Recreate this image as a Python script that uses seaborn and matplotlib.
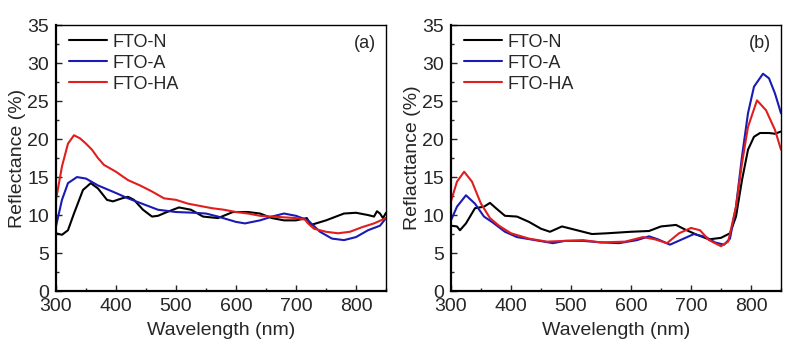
import numpy as np
import pandas as pd
import seaborn as sns
import matplotlib.pyplot as plt
from matplotlib.ticker import MultipleLocator

# ---- panel (a) ----
a_n_wl = [300, 310, 320, 330, 345, 358, 370, 385, 395, 410, 420, 430, 445, 460, 470, 485, 505, 525, 545,
          570, 595, 620, 640, 660, 680, 700, 718, 725, 750, 780, 800, 820, 830, 835, 840, 845, 850]
a_n_r = [7.6, 7.4, 8.0, 10.2, 13.3, 14.2, 13.5, 12.0, 11.8, 12.2, 12.4, 12.0, 10.7, 9.8, 9.9, 10.4, 11.0, 10.7, 9.8,
         9.6, 10.4, 10.4, 10.2, 9.6, 9.3, 9.3, 9.6, 8.7, 9.3, 10.2, 10.3, 10.0, 9.8, 10.5, 10.2, 9.6, 10.3]

a_a_wl = [300, 310, 320, 335, 350, 370, 400, 420, 450, 470, 500, 530, 550, 570, 600, 615, 640, 660, 680,
          700, 720, 740, 760, 780, 800, 820, 840, 850]
a_a_r = [8.5, 12.0, 14.2, 15.0, 14.8, 13.9, 12.9, 12.2, 11.3, 10.7, 10.4, 10.3, 10.2, 9.8, 9.1, 8.9, 9.3, 9.8, 10.2,
         9.9, 9.3, 7.8, 6.9, 6.7, 7.1, 8.0, 8.6, 9.6]

a_ha_wl = [300, 310, 320, 330, 340, 350, 360, 370, 380, 400, 420, 440, 460, 480, 500, 520, 540, 560, 580,
           600, 620, 640, 660, 680, 700, 715, 720, 730, 750, 770, 790, 810, 830, 850]
a_ha_r = [12.0, 16.4, 19.4, 20.5, 20.1, 19.4, 18.6, 17.5, 16.6, 15.7, 14.6, 13.9, 13.1, 12.2, 12.0, 11.5, 11.2, 10.9, 10.7,
          10.4, 10.2, 9.9, 9.8, 9.7, 9.6, 9.4, 8.9, 8.2, 7.8, 7.6, 7.8, 8.4, 8.9, 9.6]

# ---- panel (b) ----
b_n_wl = [300, 310, 315, 325, 340, 355, 365, 375, 390, 410, 430, 450, 465, 485, 500, 520, 535, 560, 600,
          630, 650, 675, 690, 710, 730, 750, 765, 775, 785, 795, 805, 815, 830, 840, 850]
b_n_r = [8.6, 8.5, 8.0, 8.9, 10.9, 11.1, 11.6, 10.9, 9.9, 9.8, 9.1, 8.2, 7.8, 8.5, 8.2, 7.8, 7.5, 7.6, 7.8,
         7.9, 8.5, 8.7, 8.1, 7.4, 6.8, 7.0, 7.6, 9.8, 14.6, 18.6, 20.3, 20.8, 20.8, 20.7, 21.0]

b_a_wl = [300, 310, 325, 340, 355, 370, 390, 410, 440, 470, 490, 520, 550, 580, 610, 630, 645, 665, 685,
          705, 725, 740, 755, 765, 775, 785, 795, 805, 820, 830, 840, 850]
b_a_r = [9.3, 11.1, 12.6, 11.5, 9.8, 9.0, 7.8, 7.1, 6.7, 6.3, 6.6, 6.6, 6.4, 6.3, 6.7, 7.2, 6.8, 6.1, 6.8,
         7.5, 7.1, 6.4, 6.1, 6.9, 11.1, 17.7, 23.4, 26.9, 28.6, 28.0, 26.0, 23.4]

b_ha_wl = [300, 310, 322, 335, 350, 365, 380, 400, 430, 460, 490, 520, 550, 590, 620, 640, 660, 680, 700,
           715, 730, 750, 762, 775, 785, 795, 810, 825, 840, 850]
b_ha_r = [11.8, 14.4, 15.7, 14.4, 11.5, 9.6, 8.6, 7.6, 6.9, 6.5, 6.6, 6.7, 6.4, 6.5, 7.1, 6.8, 6.3, 7.6, 8.3,
          8.0, 6.7, 5.9, 6.5, 11.1, 16.8, 21.6, 25.1, 23.8, 21.2, 18.6]

samples = ["FTO-N", "FTO-A", "FTO-HA"]
palette = {"FTO-N": "#000000", "FTO-A": "#1a1ab4", "FTO-HA": "#e01e1e"}


def frame(series):
    parts = []
    for name, wl, r in series:
        parts.append(pd.DataFrame({"Wavelength": wl, "Reflectance": r, "Sample": name}))
    return pd.concat(parts, ignore_index=True)


df_a = frame([("FTO-N", a_n_wl, a_n_r), ("FTO-A", a_a_wl, a_a_r), ("FTO-HA", a_ha_wl, a_ha_r)])
df_b = frame([("FTO-N", b_n_wl, b_n_r), ("FTO-A", b_a_wl, b_a_r), ("FTO-HA", b_ha_wl, b_ha_r)])

sns.set_style("white")
plt.rcParams["font.family"] = ["Liberation Sans", "DejaVu Sans"]

fig = plt.figure(figsize=(8.03, 3.44), dpi=100)
ax_a = fig.add_axes([0.0697, 0.154, 0.411, 0.773])
ax_b = fig.add_axes([0.5616, 0.154, 0.411, 0.773])

panels = [(ax_a, df_a, "Reflectance (%)", "(a)"), (ax_b, df_b, "Reflacttance (%)", "(b)")]
for ax, df, ylab, tag in panels:
    sns.lineplot(data=df, x="Wavelength", y="Reflectance", hue="Sample", hue_order=samples,
                 palette=palette, sort=False, estimator=None, linewidth=1.5, ax=ax)
    ax.set_xlim(300, 850)
    ax.set_ylim(0, 35)
    ax.xaxis.set_major_locator(MultipleLocator(100))
    ax.xaxis.set_minor_locator(MultipleLocator(50))
    ax.yaxis.set_major_locator(MultipleLocator(5))
    ax.yaxis.set_minor_locator(MultipleLocator(2.5))
    ax.tick_params(which="both", direction="in", left=True, bottom=True, top=False, right=False,
                   labelsize=14, width=1.0)
    ax.tick_params(axis="x", which="major", length=4, pad=5)
    ax.tick_params(axis="y", which="major", length=4, pad=5)
    ax.tick_params(which="minor", length=2.5)
    for side in ["left", "bottom"]:
        ax.spines[side].set_linewidth(1.6)
    for side in ["top", "right"]:
        ax.spines[side].set_linewidth(1.0)
    for sp in ax.spines.values():
        sp.set_color("black")
    ax.set_xlabel("Wavelength (nm)", fontsize=14, labelpad=5)
    ax.set_ylabel(ylab, fontsize=14, labelpad=1)
    ax.legend(loc="upper left", bbox_to_anchor=(0.0, 1.015), frameon=False, fontsize=13,
              handlelength=2.1, handletextpad=0.35, labelspacing=0.22, borderaxespad=0.3, title=None)
    ax.text(0.97, 0.93, tag, transform=ax.transAxes, ha="right", va="center", fontsize=13)

fig.savefig("out.png", dpi=100)
